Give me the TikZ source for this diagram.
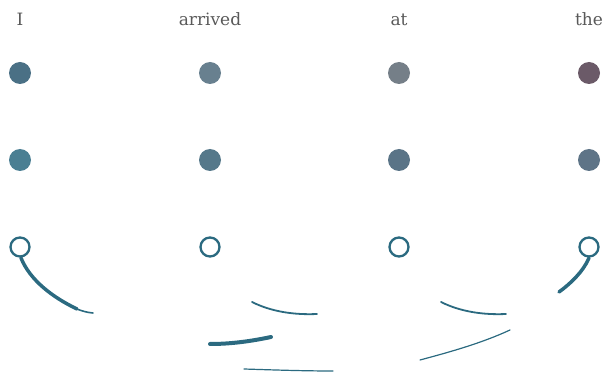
\documentclass[tikz,border=0pt]{standalone}
\usepackage{fontspec}
\setmainfont{DejaVu Serif}
\begin{document}
\begin{tikzpicture}[x=1pt,y=-1pt,
  word/.style={text=black!65, font=\fontsize{17}{20}\selectfont, inner sep=0pt, anchor=base},
  dot/.style={circle, minimum size=22pt, inner sep=0pt},
  hole/.style={circle, draw=cA, line width=2.3pt, fill=white, minimum size=19pt, inner sep=0pt},
  arc/.style={draw=cA, line cap=round}]
\definecolor{cA}{HTML}{2B6A80}
\definecolor{d1}{HTML}{4A7085}
\definecolor{d2}{HTML}{68808F}
\definecolor{d3}{HTML}{757F88}
\definecolor{d4}{HTML}{6B5A68}
\definecolor{e1}{HTML}{4B7F93}
\definecolor{e2}{HTML}{55788A}
\definecolor{e3}{HTML}{5A7487}
\definecolor{e4}{HTML}{5E7487}
\useasboundingbox (0,0) rectangle (606,374);
\node[word] (w1) at (20,26) {I};
\node[word] (w2) at (210,26) {arrived};
\node[word] (w3) at (399,26) {at};
\node[word] (w4) at (589,26) {the};
\node[dot, fill=d1] (a1) at (20,73) {};
\node[dot, fill=d2] (a2) at (210,73) {};
\node[dot, fill=d3] (a3) at (399,73) {};
\node[dot, fill=d4] (a4) at (589,73) {};
\node[dot, fill=e1] (b1) at (20,160) {};
\node[dot, fill=e2] (b2) at (210,160) {};
\node[dot, fill=e3] (b3) at (399,160) {};
\node[dot, fill=e4] (b4) at (589,160) {};
\coordinate (k1) at (77,309);
\coordinate (k2) at (93,313);
\coordinate (k7) at (559,292);
\draw[arc, line width=3.5pt] (21,258) .. controls (30,280) and (52,297) .. (k1);
\draw[arc, line width=1.6pt] (k1) .. controls (82,311) and (87,312.5) .. (k2);
\draw[arc, line width=3.5pt] (589,258) .. controls (583,272) and (570,284) .. (k7);
\draw[arc, line width=1.8pt] (252,302) .. controls (272,312) and (295,315) .. (317,314);
\draw[arc, line width=4pt] (210,344) .. controls (232,344) and (252,341) .. (271,337);
\draw[arc, line width=1.2pt] (244,369) .. controls (275,370) and (305,371) .. (333,371);
\draw[arc, line width=1.8pt] (441,302) .. controls (461,312) and (484,315) .. (506,314);
\draw[arc, line width=1.2pt] (420,360) .. controls (450,352) and (482,343) .. (510,330);
\node[hole] (c1) at (20,247) {};
\node[hole] (c2) at (210,247) {};
\node[hole] (c3) at (399,247) {};
\node[hole] (c4) at (589,247) {};
\end{tikzpicture}
\end{document}
